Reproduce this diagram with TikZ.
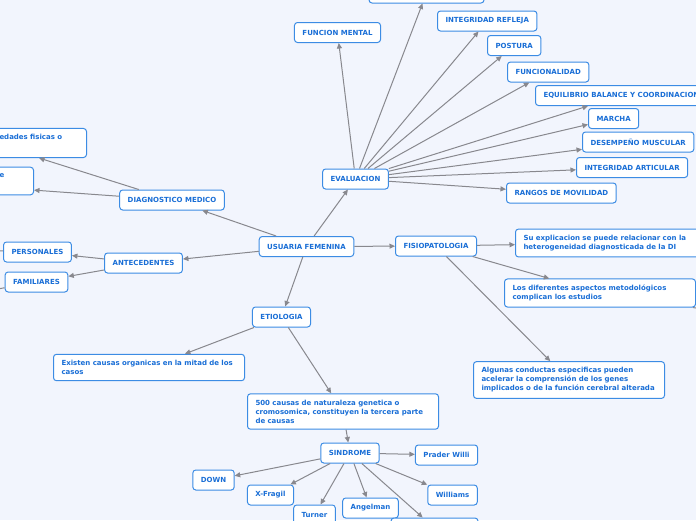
\documentclass[tikz,border=0pt]{standalone}
\usepackage{fontspec}
\setmainfont{DejaVu Sans}
\usepackage{xcolor}
\usetikzlibrary{arrows.meta}

\definecolor{mapbg}{RGB}{242,245,253}
\definecolor{mapblue}{RGB}{60,140,228}
\definecolor{mapink}{RGB}{25,110,214}
\definecolor{mapgrey}{RGB}{136,136,142}

\begin{document}
\begin{tikzpicture}[
  x=1pt, y=-1pt,
  idea/.style={rectangle, draw=mapblue, line width=1pt, rounded corners=3pt, fill=white, text=mapink, font=\fontsize{7}{9}\selectfont\bfseries, inner xsep=8pt, inner ysep=6pt, minimum height=20pt, align=left},
  note/.style={idea, text width=175pt},
  link/.style={-{Triangle[length=5.5pt,width=5pt]}, draw=mapgrey, line width=1pt}
]
\path[use as bounding box, fill=mapbg] (0,0) rectangle (696,520);
\clip (0,0) rectangle (696,520);

\node[idea] (uf) at (306.5,246.5) {USUARIA FEMENINA};
\node[idea] (ev) at (355.5,179) {EVALUACION};
\node[idea] (fp) at (436,246) {FISIOPATOLOGIA};
\node[idea] (ant) at (143.5,263) {ANTECEDENTES};
\node[idea] (dm) at (172,200) {DIAGNOSTICO MEDICO};
\node[idea] (et) at (281.5,317) {ETIOLOGIA};

\node[idea] (per) at (37.5,252) {PERSONALES};
\node[idea] (fam) at (36.5,282) {FAMILIARES};
\node[idea, anchor=east, text width=79pt] (fis) at (87,143) {edades fisicas o\\\strut};
\node[idea, anchor=east, text width=26pt] (dme) at (34,181) {e\\\strut};

\node[idea, minimum width=115pt] (top) at (426.5,-7) {};
\node[idea] (fm) at (337.5,32.5) {FUNCION MENTAL};
\node[idea, anchor=west] (ir) at (437,21) {INTEGRIDAD REFLEJA};
\node[idea, anchor=west] (pos) at (487,45.5) {POSTURA};
\node[idea, anchor=west] (fun) at (507,72) {FUNCIONALIDAD};
\node[idea, anchor=west] (eq) at (535,95.5) {EQUILIBRIO BALANCE Y COORDINACION};
\node[idea, anchor=west] (mar) at (588,118.5) {MARCHA};
\node[idea, anchor=west] (dmu) at (582,142) {DESEMPEÑO MUSCULAR};
\node[idea, anchor=west] (ia) at (576,167.5) {INTEGRIDAD ARTICULAR};
\node[idea, anchor=west] (rm) at (506,193) {RANGOS DE MOVILIDAD};

\node[note, anchor=west] (su) at (515,243) {Su explicacion se puede relacionar con la\\heterogeneidad diagnosticada de la DI};
\node[note, anchor=west] (ld) at (504,293) {Los diferentes aspectos metodológicos\\complican los estudios};
\node[note, anchor=west] (alg) at (473,380) {Algunas conductas especificas pueden\\acelerar la comprensión de los genes\\implicados o de la función cerebral alterada};

\node[note, anchor=west] (org) at (53,367.5) {Existen causas organicas en la mitad de los\\casos};
\node[note, anchor=west] (gen) at (247,411.5) {500 causas de naturaleza genetica o\\cromosomica, constituyen la tercera parte\\de causas};

\node[idea] (sin) at (350,453) {SINDROME};
\node[idea] (pw) at (446.5,455) {Prader Willi};
\node[idea] (dw) at (213.5,480) {DOWN};
\node[idea] (xf) at (270.5,495) {X-Fragil};
\node[idea] (tu) at (314.5,515) {Turner};
\node[idea] (an) at (370.5,508) {Angelman};
\node[idea] (wi) at (452.5,495) {Williams};
\node[idea, minimum width=87pt] (bot) at (434.5,528) {};

\coordinate (perx) at (-30,250);
\coordinate (famx) at (-30,294);
\coordinate (ldx) at (760,318);

\draw[link] (uf) -- (ev);
\draw[link] (uf) -- (dm);
\draw[link] (uf) -- (ant);
\draw[link] (uf) -- (fp);
\draw[link] (uf) -- (et);

\draw[link] (dm) -- (fis.south);
\draw[link] (dm) -- (dme.-23);
\draw[link] (ant) -- (per);
\draw[link] (ant) -- (fam);
\draw[link] (per) -- (perx);
\draw[link] (fam) -- (famx);

\draw[link] (ev) -- (top);
\draw[link] (ev) -- (fm);
\draw[link] (ev) -- (ir);
\draw[link] (ev) -- (pos);
\draw[link] (ev) -- (fun);
\draw[link] (ev) -- (eq);
\draw[link] (ev) -- (mar);
\draw[link] (ev) -- (dmu);
\draw[link] (ev) -- (ia);
\draw[link] (ev) -- (rm);

\draw[link] (fp) -- (su);
\draw[link] (fp) -- (ld);
\draw[link] (fp) -- (alg);
\draw[link] (ld) -- (ldx);

\draw[link] (et) -- (org);
\draw[link] (et) -- (gen);
\draw[link] (gen) -- (sin);

\draw[link] (sin) -- (pw);
\draw[link] (sin) -- (dw);
\draw[link] (sin) -- (xf);
\draw[link] (sin) -- (tu);
\draw[link] (sin) -- (an);
\draw[link] (sin) -- (wi);
\draw[link] (sin) -- (bot);
\end{tikzpicture}
\end{document}
